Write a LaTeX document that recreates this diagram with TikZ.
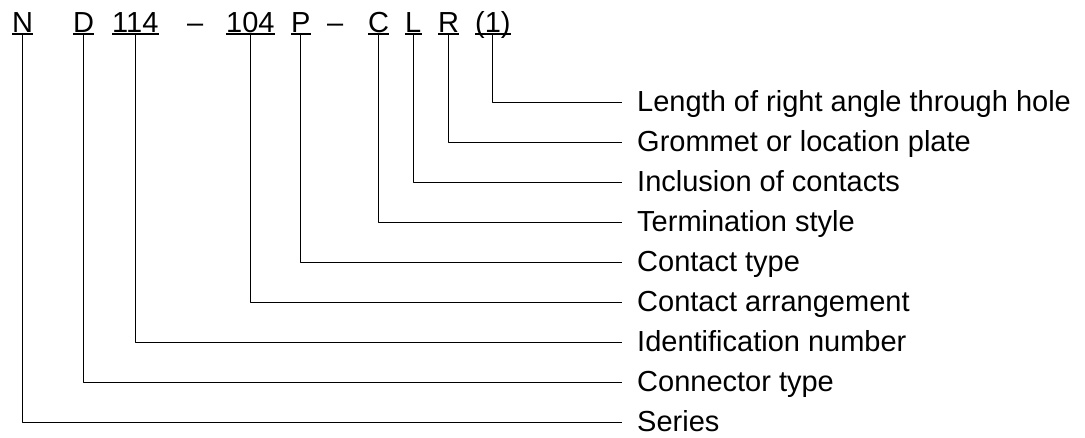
\documentclass[tikz,border=0pt]{standalone}
\usepackage{fontspec}
\setmainfont{Liberation Sans}
\begin{document}
\begin{tikzpicture}[x=1pt,y=-1pt, line join=round,
  font=\fontsize{29}{34}\selectfont,
  code/.style={inner sep=0pt, anchor=base west},
  desc/.style={inner sep=0pt, anchor=base west}]
\useasboundingbox (0,0) rectangle (1085,437);
% part number
\path
  (12,32)  node[code] (N) {N}
  (73,32)  node[code] (D) {D}
  (112,32) node[code] (idn) {114}
  (187,32) node[code] (d1) {–}
  (226,32) node[code] (arr) {104}
  (291,32) node[code] (P) {P}
  (327,32) node[code] (d2) {–}
  (368,32) node[code] (C) {C}
  (405,32) node[code] (L) {L}
  (438,32) node[code] (R) {R}
  (475,32) node[code] (len) {(1)};
\foreach \c in {N,D,idn,arr,P,C,L,R,len}
  \draw[line width=1.8pt] ([yshift=-2pt]\c.base west)--([yshift=-2pt]\c.base east);
% meanings
\foreach \t [count=\i] in {Length of right angle through hole,Grommet or location plate,
  Inclusion of contacts,Termination style,Contact type,Contact arrangement,
  Identification number,Connector type,Series}
  \node[desc] (lab\i) at (637,{71+40*\i}) {\t};
\foreach \c/\i in {len/1,R/2,L/3,C/4,P/5,arr/6,idn/7,D/8,N/9}
  \draw[line width=1pt] ([yshift=-2pt]\c.base) |- ([shift={(-15pt,9pt)}]lab\i.base west);
\end{tikzpicture}
\end{document}
